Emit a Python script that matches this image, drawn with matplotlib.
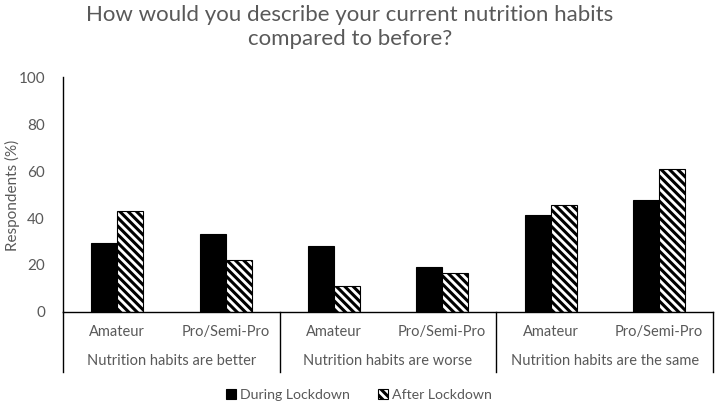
import matplotlib
matplotlib.use("Agg")
import matplotlib.pyplot as plt
import matplotlib.transforms as mtransforms
import numpy as np

plt.rcParams['font.family'] = ['Lato', 'DejaVu Sans']
plt.rcParams['hatch.linewidth'] = 2.2

groups = ["Nutrition habits are better", "Nutrition habits are worse", "Nutrition habits are the same"]
subcats = ["Amateur", "Pro/Semi-Pro"]
series_names = ["During Lockdown", "After Lockdown"]
during = [29.5, 33, 28, 19, 41.5, 47.5]
after = [43, 22, 11, 16.5, 45.5, 61]

text_color = "#595959"

fig = plt.figure(figsize=(7.22, 4.07), dpi=100)
ax = fig.add_axes([63/722, 1-311.7/407, 650/722, (311.7-77.5)/407])

n = len(during)
x = np.arange(n)
w = 0.24
ax.bar(x - w/2, during, width=w, color="black", edgecolor="black", linewidth=0.8, label=series_names[0])
ax.bar(x + w/2, after, width=w, color="white", edgecolor="black", linewidth=0.8, hatch="\\\\\\\\", label=series_names[1])

ax.set_xlim(-0.5, n - 0.5)
ax.set_ylim(0, 100)
ax.set_yticks(range(0, 101, 20))
ax.tick_params(axis='y', length=0, pad=13, labelsize=11, labelcolor=text_color)
ax.set_xticks([])
for s in ["top", "right"]:
    ax.spines[s].set_visible(False)
ax.spines["left"].set_color("black")
ax.spines["bottom"].set_color("black")
ax.spines["left"].set_linewidth(1.0)
ax.spines["bottom"].set_linewidth(1.0)

fig.text(12/722, 1 - 195/407, "Respondents (%)", rotation=90, ha="center", va="center",
         fontsize=11, color=text_color)

trans = mtransforms.blended_transform_factory(ax.transData, ax.transAxes)
axh = 311.7 - 77.5
bottom_line = -(371.7 - 311.7) / axh
for b in [-0.5, 1.5, 3.5, 5.5]:
    ax.plot([b, b], [0, bottom_line], transform=trans, color="black", lw=1.0, clip_on=False)

sub_y = -(331.7 - 311.7) / axh
grp_y = -(361 - 311.7) / axh
for i in range(n):
    ax.text(x[i], sub_y, subcats[i % 2], transform=trans, ha="center", va="center",
            fontsize=10.5, color=text_color)
for g, name in enumerate(groups):
    ax.text(2*g + 0.5, grp_y, name, transform=trans, ha="center", va="center",
            fontsize=10.5, color=text_color)

fig.text(350/722, 1 - 27/407, "How would you describe your current nutrition habits\ncompared to before?",
         ha="center", va="center", fontsize=16, color=text_color, linespacing=1.2)

fig.legend(loc="center", bbox_to_anchor=(359/722, 1 - 395/407), ncol=2, frameon=False,
           fontsize=10.2, handlelength=0.7, handleheight=0.7, handletextpad=0.3,
           columnspacing=2.0, labelcolor=text_color)

fig.savefig("out.png", dpi=100)
